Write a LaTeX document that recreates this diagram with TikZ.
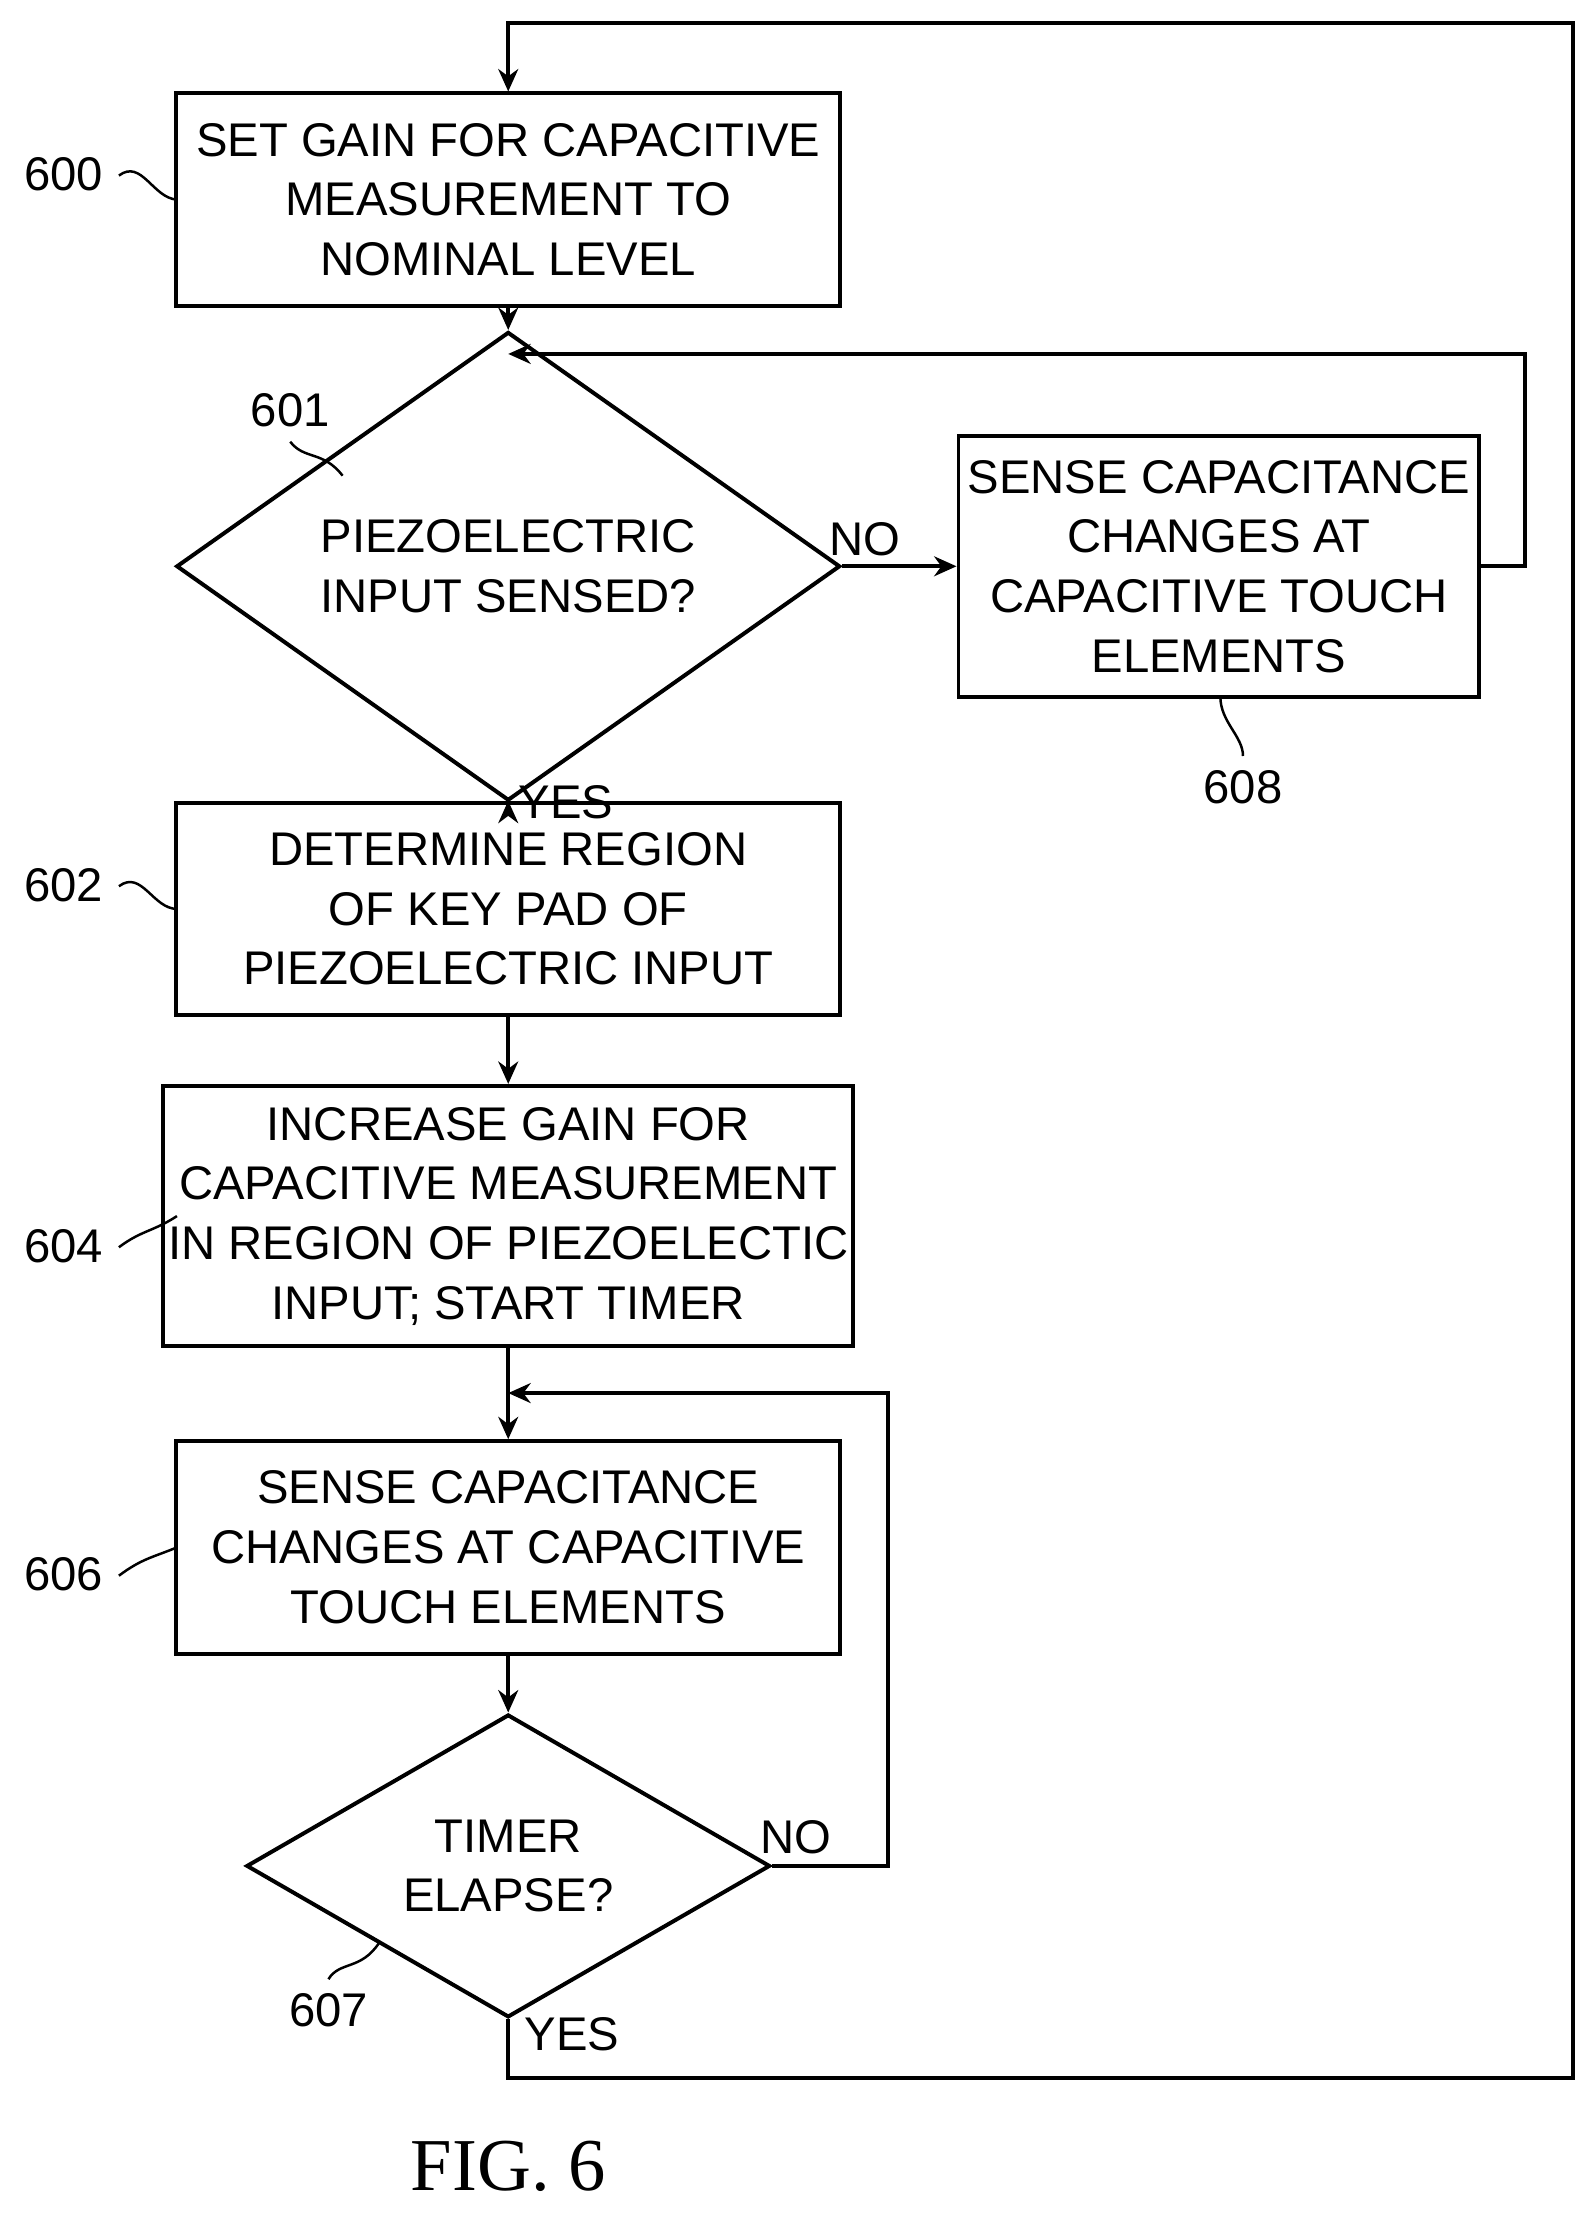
\documentclass[tikz,border=0pt]{standalone}
\usepackage{fontspec}
\setmainfont{Liberation Sans}
\newfontfamily\figfont{Liberation Serif}
\usetikzlibrary{shapes.geometric,arrows.meta}
\tikzstyle{stepbox}=[rectangle, draw, line width=1.6pt, align=center, minimum width=9.38cm, minimum height=3cm, inner sep=2pt]
\tikzstyle{testdiamond}=[diamond, draw, line width=1.6pt, align=center, inner sep=0pt]
\tikzstyle{flow}=[line width=1.6pt, -{Stealth[length=9pt,width=8pt]}]
\tikzstyle{leader}=[line width=1pt]

\begin{document}
\begin{tikzpicture}[x=0.02cm, y=-0.02cm, every node/.style={font=\fontsize{19}{24}\selectfont}]
\useasboundingbox (0,0) rectangle (1125,1566);

\node[stepbox](s600) at (359,141) {SET GAIN FOR CAPACITIVE\\MEASUREMENT TO\\NOMINAL LEVEL};
\node[testdiamond, minimum width=9.38cm, minimum height=4.64cm](s601) at (359,400) {PIEZOELECTRIC\\INPUT SENSED?};
\node[stepbox, minimum width=7.36cm, minimum height=3.68cm](s608) at (861,400) {SENSE CAPACITANCE\\CHANGES AT\\CAPACITIVE TOUCH\\ELEMENTS};
\node[stepbox](s602) at (359,642) {DETERMINE REGION\\OF KEY PAD OF\\PIEZOELECTRIC INPUT};
\node[stepbox, minimum height=3.68cm](s604) at (359,859) {INCREASE GAIN FOR\\CAPACITIVE MEASUREMENT\\IN REGION OF PIEZOELECTIC\\INPUT; START TIMER};
\node[stepbox](s606) at (359,1093) {SENSE CAPACITANCE\\CHANGES AT CAPACITIVE\\TOUCH ELEMENTS};
\node[testdiamond, minimum width=7.4cm, minimum height=4cm](s607) at (359,1318) {TIMER\\ELAPSE?};

% reference numerals
\node(n600) at (45,123) {600};
\node(n601) at (205,290) {601};
\node(n602) at (45,625) {602};
\node(n604) at (45,880) {604};
\node(n606) at (45,1112) {606};
\node(n607) at (232,1420) {607};
\node(n608) at (878,556) {608};
\draw[leader] (84,124) .. controls (100,112) and (108,140) .. (125,141);
\draw[leader] (84,626) .. controls (100,614) and (108,642) .. (125,642);
\draw[leader] (84,881) .. controls (100,869) and (108,870) .. (125,859);
\draw[leader] (84,1113) .. controls (100,1101) and (108,1100) .. (125,1093);
\draw[leader] (205,312) .. controls (215,325) and (228,318) .. (242,336);
\draw[leader] (232,1398) .. controls (240,1385) and (255,1392) .. (268,1372);
\draw[leader] (878,534) .. controls (878,520) and (862,510) .. (862,492);

% connectors
\coordinate(c1) at (1077,250);
\coordinate(c2) at (627,984);
\coordinate(c3) at (1111,1468);
\coordinate(c4) at (1111,16);
\draw[flow](s600.south) -- (s601.north);
\draw[flow](s601.east) -- node[above, pos=0.2] {NO} (s608.west);
\draw[flow](s608.east) -| (c1) -- (359,250);
\draw[flow](s601.south) -- node[right, pos=0.35] {YES} (s602.north);
\draw[flow](s602.south) -- (s604.north);
\draw[flow](s604.south) -- (s606.north);
\draw[flow](s606.south) -- (s607.north);
\draw[flow](s607.east) -| (c2) -- (359,984);
\node at (562,1298) {NO};
\draw[flow](s607.south) |- (c3) -- (c4) -| (s600.north);
\node at (404,1437) {YES};

\node[font=\figfont\fontsize{30}{34}\selectfont] (fig) at (359,1530) {FIG. 6};
\end{tikzpicture}
\end{document}
